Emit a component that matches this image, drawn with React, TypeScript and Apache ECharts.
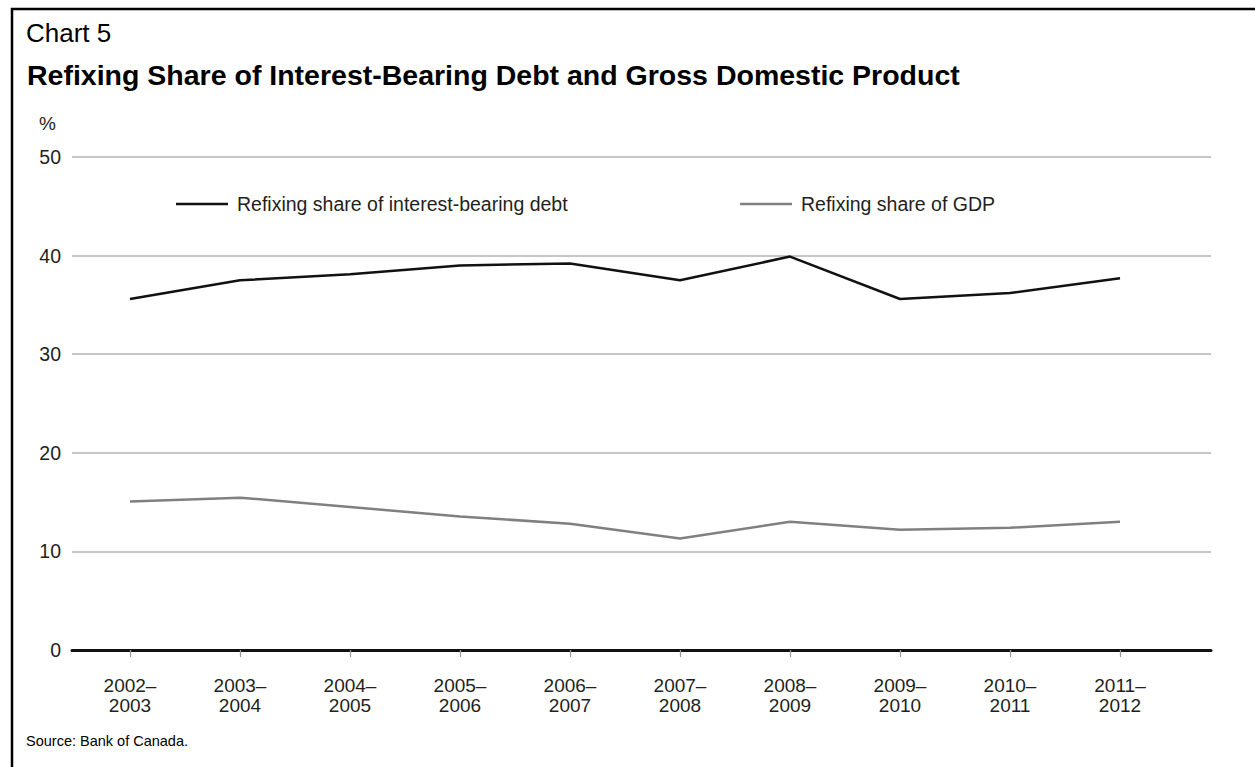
import React, { useEffect, useRef } from "react";
import * as echarts from "echarts";

const categories = [
  "2002–\n2003", "2003–\n2004", "2004–\n2005", "2005–\n2006", "2006–\n2007",
  "2007–\n2008", "2008–\n2009", "2009–\n2010", "2010–\n2011", "2011–\n2012",
];
const debtShare = [35.6, 37.5, 38.1, 39.0, 39.2, 37.5, 39.9, 35.6, 36.2, 37.7];
const gdpShare = [15.05, 15.45, 14.5, 13.55, 12.8, 11.3, 13.0, 12.2, 12.4, 13.0];
const seriesNames = ["Refixing share of interest-bearing debt", "Refixing share of GDP"];
const yMin = 0;
const yMax = 50;
const yStep = 10;

const FONT = "'Liberation Sans', Arial, Helvetica, sans-serif";
const TEXT = "#231f20";

export default function App() {
  const ref = useRef<HTMLDivElement>(null);
  useEffect(() => {
    document.body.style.margin = "0";
    const chart = echarts.init(ref.current!, undefined, { renderer: "svg" });
    const gridTop = 157;
    const gridBottom = 117;
    chart.setOption({
      animation: false,
      backgroundColor: "#ffffff",
      textStyle: { fontFamily: FONT, color: TEXT },
      title: [
        {
          text: "Chart 5",
          left: 21,
          top: 15,
          textStyle: { fontFamily: FONT, fontSize: 26, fontWeight: "normal", color: "#000" },
        },
        {
          text: "Refixing Share of Interest-Bearing Debt and Gross Domestic Product",
          left: 22,
          top: 55,
          textStyle: { fontFamily: FONT, fontSize: 28.5, fontWeight: "bold", color: "#000" },
        },
      ],
      graphic: [
        {
          type: "rect",
          shape: { x: 12, y: 9, width: 1400, height: 900 },
          style: { fill: "none", stroke: "#000", lineWidth: 2.5 },
          silent: true,
        },
        {
          type: "text",
          left: 39,
          top: 114,
          style: { text: "%", font: `19px ${FONT}`, fill: TEXT },
        },
        {
          type: "text",
          left: 26,
          top: 733,
          style: { text: "Source: Bank of Canada.", font: `14.5px 'Liberation Sans Narrow', ${FONT}`, fill: "#000" },
        },
      ],
      legend: [
        {
          data: [seriesNames[0]],
          left: 171,
          top: 189,
          icon: "rect",
          itemWidth: 52,
          itemHeight: 2.5,
          textStyle: { fontFamily: FONT, fontSize: 19.5, color: TEXT, padding: [0, 0, 0, 4] },
        },
        {
          data: [seriesNames[1]],
          left: 735,
          top: 189,
          icon: "rect",
          itemWidth: 52,
          itemHeight: 2.5,
          textStyle: { fontFamily: FONT, fontSize: 19.5, color: TEXT, padding: [0, 0, 0, 4] },
        },
      ],
      grid: [
        { left: 72, right: 44, top: gridTop, bottom: gridBottom, containLabel: false },
        { left: 130, right: 135, top: gridTop, bottom: gridBottom, containLabel: false },
      ],
      xAxis: [
        {
          gridIndex: 0,
          type: "value",
          min: 0,
          max: 1,
          axisLine: { show: true, onZero: false, lineStyle: { color: "#111", width: 3 } },
          axisTick: { show: false },
          axisLabel: { show: false },
          splitLine: { show: false },
        },
        {
          gridIndex: 1,
          type: "category",
          data: categories,
          boundaryGap: false,
          axisLine: { show: false },
          axisTick: { show: true, length: 7, lineStyle: { color: "#999", width: 1.2 } },
          axisLabel: {
            fontFamily: FONT,
            fontSize: 19,
            lineHeight: 20,
            color: TEXT,
            margin: 25,
            interval: 0,
          },
          splitLine: { show: false },
        },
      ],
      yAxis: [
        {
          gridIndex: 0,
          type: "value",
          min: yMin,
          max: yMax,
          interval: yStep,
          axisLine: { show: false },
          axisTick: { show: false },
          axisLabel: { fontFamily: FONT, fontSize: 19.5, color: TEXT, margin: 11 },
          splitLine: { show: true, lineStyle: { color: "#b3b3b3", width: 1.5 } },
        },
        {
          gridIndex: 1,
          type: "value",
          min: yMin,
          max: yMax,
          interval: yStep,
          show: false,
          splitLine: { show: false },
        },
      ],
      series: [
        {
          name: seriesNames[0],
          type: "line",
          xAxisIndex: 1,
          yAxisIndex: 1,
          data: debtShare,
          showSymbol: false,
          symbol: "none",
          color: "#111111",
          lineStyle: { color: "#111111", width: 2.5 },
          z: 5,
        },
        {
          name: seriesNames[1],
          type: "line",
          xAxisIndex: 1,
          yAxisIndex: 1,
          data: gdpShare,
          showSymbol: false,
          symbol: "none",
          color: "#808080",
          lineStyle: { color: "#808080", width: 2.5 },
          z: 4,
        },
      ],
    });
    return () => chart.dispose();
  }, []);
  return (
    <div
      ref={ref}
      style={{ position: "absolute", left: 0, top: 0, width: 1255, height: 767 }}
    />
  );
}
